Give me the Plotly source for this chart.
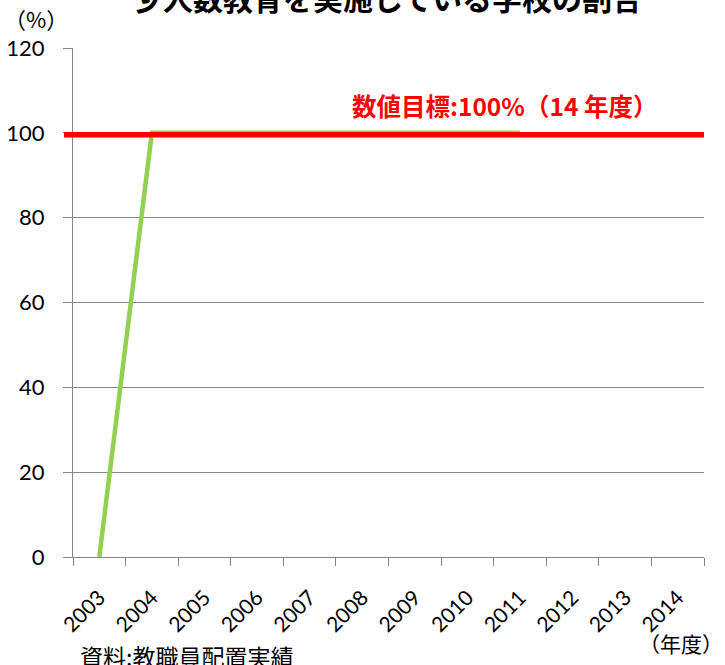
import plotly.graph_objects as go

years = [str(y) for y in range(2003, 2015)]
actual_years = [str(y) for y in range(2003, 2012)]
actual_values = [0, 100, 100, 100, 100, 100, 100, 100, 100]
target_value = 100
y_ticks = [0, 20, 40, 60, 80, 100, 120]

title_text = "少人数教育を実施している学校の割合"
target_label = "数値目標:100%（14 年度）"
source_text = "資料:教職員配置実績"

NUM_FONT = "Lato, Noto Sans, sans-serif"
JP_FONT = "Noto Sans CJK JP, sans-serif"

fig = go.Figure()
fig.add_trace(go.Scatter(
    x=actual_years, y=actual_values, mode="lines",
    line=dict(color="#92D050", width=4.5), showlegend=False, hoverinfo="skip"))

fig.add_shape(type="line", xref="paper", yref="y", ysizemode="pixel",
              yanchor=target_value, y0=-2, y1=-2,
              x0=-9 / 631, x1=1.0,
              line=dict(color="#FF0000", width=5.5), layer="above")

fig.update_layout(
    width=725, height=665,
    margin=dict(l=73, r=21, t=48, b=108),
    paper_bgcolor="white", plot_bgcolor="white",
    font=dict(family=NUM_FONT, color="black"),
    xaxis=dict(type="category", categoryorder="array", categoryarray=years,
               range=[-0.5, 11.5], tickson="boundaries", ticks="outside",
               ticklen=8, tickcolor="#868686", showgrid=False,
               showline=True, linecolor="#868686", linewidth=1,
               tickangle=-45, tickfont=dict(size=21, family=NUM_FONT),
               ticklabelstandoff=19, zeroline=False, automargin=False),
    yaxis=dict(range=[0, 120], tickvals=y_ticks, ticks="outside", ticklen=9,
               tickcolor="#868686", showgrid=True, gridcolor="#868686",
               gridwidth=1, showline=True, linecolor="#868686", linewidth=1,
               tickfont=dict(size=22, family=NUM_FONT),
               ticklabelstandoff=14, zeroline=False, automargin=False),
    annotations=[
        dict(text="<b>" + title_text + "</b>", xref="paper", yref="paper",
             x=0, xshift=-73 + 387, y=1.0, yshift=51, xanchor="center",
             yanchor="middle", showarrow=False,
             font=dict(size=30, family=JP_FONT)),
        dict(text="（%）", xref="paper", yref="paper", x=0, xshift=-73 + 2,
             y=1.0, yshift=30, xanchor="left", yanchor="middle",
             showarrow=False, font=dict(size=22, family=JP_FONT)),
        dict(text="<b>" + target_label + "</b>", xref="paper", yref="y",
             x=0, xshift=-73 + 504, y=target_value, yshift=27,
             xanchor="center", yanchor="middle", showarrow=False,
             font=dict(size=24.5, family=JP_FONT, color="#FF0000")),
        dict(text="（年度）", xref="paper", yref="paper", x=1.0, xshift=21,
             y=0, yshift=-86, xanchor="right", yanchor="middle",
             showarrow=False, font=dict(size=21, family=JP_FONT)),
        dict(text=source_text, xref="paper", yref="paper", x=0, xshift=5,
             y=0, yshift=-99, xanchor="left", yanchor="middle",
             showarrow=False, font=dict(size=23, family=JP_FONT)),
    ],
)

fig.write_html("out.html")
